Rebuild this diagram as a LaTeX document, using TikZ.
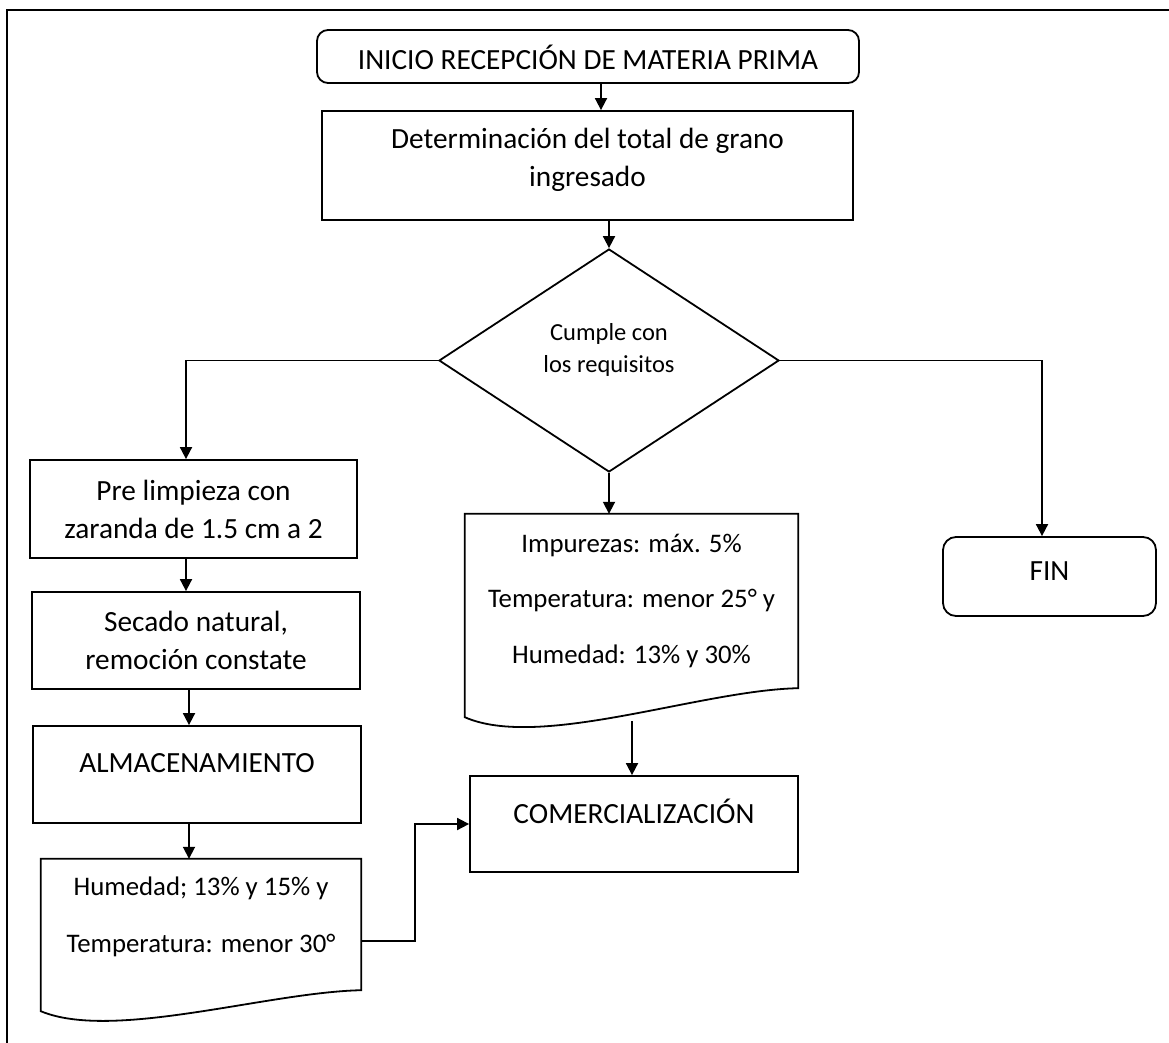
\documentclass[tikz,border=0pt]{standalone}
\usepackage{fontspec}
\setmainfont{Carlito}
\usetikzlibrary{arrows.meta,shapes.geometric,calc}
\begin{document}
\begin{tikzpicture}[x=1pt,y=-1pt,
  every node/.style={align=center, inner sep=0pt, font=\fontsize{29.3}{38}\selectfont},
  procbox/.style={draw, line width=1.8pt, rectangle},
  termbox/.style={draw, line width=1.8pt, rectangle, rounded corners=11pt},
  decision/.style={draw, line width=1.8pt, diamond, font=\fontsize{24.5}{32}\selectfont},
  docshape/.style={rectangle},
  outline/.style={line width=1.8pt, line join=miter},
  arr/.style={line width=1.8pt, -{Triangle[length=12pt,width=12pt]}},
]
\useasboundingbox (0,0) rectangle (1169,1043);

% page frame (top and left edges)
\draw[line width=2pt] (7,1043) -- (7,10) -- (1169,10);

% main column
\node[termbox, minimum width=542, minimum height=53, text height=27, text depth=0] (start) at (588,56.5)
  {INICIO RECEPCIÓN DE MATERIA PRIMA};
\node[procbox, minimum width=531, minimum height=109, text height=61, text depth=20] (det) at (587.5,165.5)
  {Determinación del total de grano\\ingresado};
\node[decision, minimum width=340, minimum height=223, text height=39, text depth=16] (dec) at (609,360.5)
  {Cumple con\\los requisitos};

% left branch
\node[procbox, minimum width=327, minimum height=96, text height=78, text depth=20] (pre) at (193.5,509)
  {Pre limpieza con\\zaranda de 1.5 cm a 2};
\node[procbox, minimum width=328, minimum height=97, text height=77, text depth=20] (sec) at (196,640.5)
  {Secado natural,\\remoción constate};
\node[procbox, minimum width=328, minimum height=97, text height=20, text depth=25] (alm) at (197,774.5)
  {ALMACENAMIENTO};
\node[docshape, font=\fontsize{26.8}{57}\selectfont, minimum width=320, minimum height=152, text height=60, text depth=26] (hum) at (201,935)
  {Humedad; 13\% y 15\% y\\Temperatura: menor 30°};

% centre branch
\node[docshape, font=\fontsize{26.8}{55.5}\selectfont, minimum width=333, minimum height=203, text height=135, text depth=40] (req) at (631.5,615.5)
  {Impurezas: máx. 5\%\\Temperatura: menor 25° y\\Humedad: 13\% y 30\%};
\node[procbox, minimum width=328, minimum height=96, text height=20, text depth=22] (com) at (634,824)
  {COMERCIALIZACIÓN};

% right branch
\node[termbox, rounded corners=13pt, minimum width=213, minimum height=79, text height=20, text depth=13] (fin) at (1049.5,576.5)
  {FIN};

% document outlines with wavy bottom edge
\draw[outline] (req.south west) -- (req.north west) -- (req.north east) -- ($(req.south east)+(0,-29)$)
  .. controls ($(req.south east)+(-98,-27)$) and ($(req.south west)+(75,33)$) .. (req.south west) -- cycle;
\draw[outline] (hum.south west) -- (hum.north west) -- (hum.north east) -- ($(hum.south east)+(0,-21)$)
  .. controls ($(hum.south east)+(-94,-19)$) and ($(hum.south west)+(72,30)$) .. (hum.south west) -- cycle;

% connectors
\draw[arr] (start.south -| 601,0) -- (det.north -| 601,0);
\draw[arr] (det.south -| dec.north) -- (dec.north);
\draw[arr] (dec.west) -| (pre.north -| 186,0);
\draw[arr] (dec.east) -| (fin.north -| 1042,0);
\draw[arr] (dec.south) -- (req.north -| dec.south);
\draw[arr] (pre.south -| 186,0) -- (sec.north -| 186,0);
\draw[arr] (sec.south -| 189,0) -- (alm.north -| 189,0);
\draw[arr] (alm.south -| 189,0) -- (hum.north -| 189,0);
\draw[arr] ($(req.south)+(0.5,4)$) -- (com.north -| 632,0);
\draw[arr] (hum.east |- 0,941) -| ($(hum.east |- 0,941)!0.5!(com.west)$) |- (com.west);
\end{tikzpicture}
\end{document}
